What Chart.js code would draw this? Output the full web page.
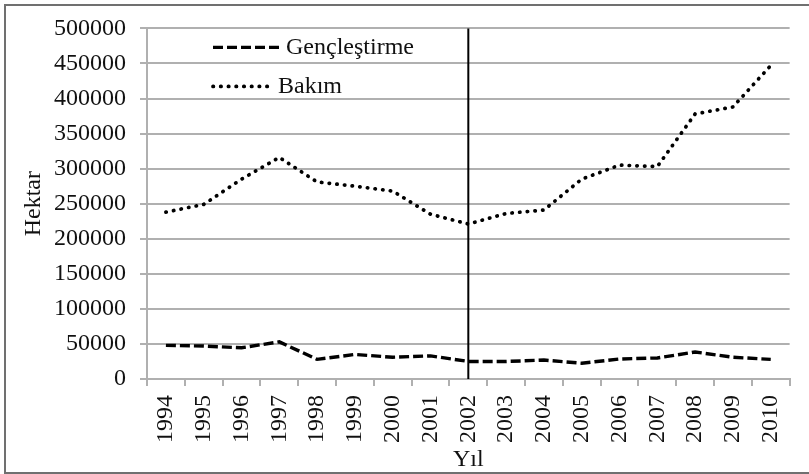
<!DOCTYPE html>
<html>
<head>
<meta charset="utf-8">
<title>Gençleştirme ve Bakım</title>
<script src="https://cdn.jsdelivr.net/npm/chart.js@4.4.1/dist/chart.umd.min.js"></script>
<style>
  html, body { margin: 0; padding: 0; background: #fff; }
  #wrap { width: 809px; height: 474px; position: relative; }
</style>
</head>
<body>
<div id="wrap"><canvas id="chart"></canvas></div>
<script>
// --- data ---
const years = ['1994', '1995', '1996', '1997', '1998', '1999', '2000', '2001', '2002',
               '2003', '2004', '2005', '2006', '2007', '2008', '2009', '2010'];
const genclestirme = [48000, 47000, 44500, 53000, 28000, 35000, 31000, 33000, 25000,
                      25000, 27000, 22500, 28500, 30000, 38500, 31000, 28000];
const bakim = [238000, 249000, 285000, 316000, 281000, 275000, 268000, 235000, 221000,
               236000, 241000, 285000, 305000, 303000, 378000, 388000, 447000];
const yTicks = [0, 50000, 100000, 150000, 200000, 250000, 300000, 350000, 400000, 450000, 500000];
const markerYear = '2002';

const FONT = "'Liberation Serif', 'Times New Roman', serif";
const GRID = '#b0b0b0';

// vertical line at the marker year
const markerLine = {
    id: 'markerLine',
    afterDatasetsDraw(chart) {
        const { ctx, chartArea } = chart;
        const x = chart.scales.x.getPixelForValue(years.indexOf(markerYear));
        ctx.save();
        ctx.strokeStyle = '#000';
        ctx.lineWidth = 2;
        ctx.beginPath();
        ctx.moveTo(x, chartArea.top);
        ctx.lineTo(x, chartArea.bottom);
        ctx.stroke();
        ctx.restore();
    }
};

// legend drawn inside the plot, top left
const innerLegend = {
    id: 'innerLegend',
    afterDraw(chart) {
        const { ctx, chartArea } = chart;
        const left = chartArea.left + 66;
        const rows = [chartArea.top + 19, chartArea.top + 58];
        const lens = [68, 60];
        ctx.save();
        chart.data.datasets.forEach((ds, i) => {
            const y = rows[i];
            ctx.strokeStyle = ds.borderColor;
            ctx.lineWidth = ds.borderWidth;
            ctx.lineCap = ds.borderCapStyle || 'butt';
            ctx.setLineDash(ds.borderDash || []);
            ctx.beginPath();
            ctx.moveTo(left, y);
            ctx.lineTo(left + lens[i], y);
            ctx.stroke();
            ctx.setLineDash([]);
            ctx.fillStyle = '#111';
            ctx.font = '24px ' + FONT;
            ctx.textBaseline = 'middle';
            ctx.textAlign = 'left';
            ctx.fillText(ds.label, left + lens[i] + 5, y);
        });
        ctx.restore();
    }
};

// grey frame round the whole figure
const frame = {
    id: 'frame',
    afterDraw(chart) {
        const ctx = chart.ctx;
        ctx.save();
        ctx.strokeStyle = '#707070';
        ctx.lineWidth = 2;
        ctx.beginPath();
        ctx.moveTo(chart.width + 2, 5);
        ctx.lineTo(5, 5);
        ctx.lineTo(5, 473);
        ctx.lineTo(chart.width + 2, 473);
        ctx.stroke();
        ctx.restore();
    }
};

new Chart(document.getElementById('chart'), {
    type: 'line',
    data: {
        labels: years,
        datasets: [{
            label: 'Gençleştirme',
            data: genclestirme,
            borderColor: '#000',
            borderWidth: 3.4,
            borderDash: [10, 4],
            borderCapStyle: 'butt',
            pointRadius: 0,
            tension: 0,
            fill: false
        }, {
            label: 'Bakım',
            data: bakim,
            borderColor: '#000',
            borderWidth: 3.7,
            borderDash: [0.4, 7.3],
            borderCapStyle: 'round',
            pointRadius: 0,
            tension: 0,
            fill: false
        }]
    },
    options: {
        responsive: true,
        maintainAspectRatio: false,
        animation: false,
        layout: { padding: { top: 24, right: 16, left: 0, bottom: 0 } },
        plugins: {
            legend: { display: false },
            tooltip: { enabled: false }
        },
        scales: {
            x: {
                offset: true,
                grid: {
                    offset: true,
                    drawOnChartArea: false,
                    drawTicks: true,
                    tickLength: 7,
                    color: GRID,
                    lineWidth: 2
                },
                border: { display: true, color: GRID, width: 2 },
                ticks: {
                    maxRotation: 90,
                    minRotation: 90,
                    autoSkip: false,
                    padding: 9,
                    color: '#111',
                    font: { family: FONT, size: 24 }
                },
                title: {
                    display: true,
                    text: 'Yıl',
                    color: '#111',
                    padding: { top: 0, bottom: 0 },
                    font: { family: FONT, size: 24 }
                },
                afterFit(scale) { scale.height = 95; }
            },
            y: {
                min: 0,
                max: 500000,
                afterBuildTicks(axis) { axis.ticks = yTicks.map(v => ({ value: v })); },
                grid: {
                    color: GRID,
                    lineWidth: 2,
                    tickLength: 7
                },
                border: { display: true, color: GRID, width: 2 },
                ticks: {
                    padding: 14,
                    color: '#111',
                    font: { family: FONT, size: 24 },
                    callback: v => String(v)
                },
                title: {
                    display: true,
                    text: 'Hektar',
                    color: '#111',
                    padding: { top: 19, bottom: 0 },
                    font: { family: FONT, size: 24 }
                },
                afterFit(scale) { scale.width = 147; }
            }
        }
    },
    plugins: [markerLine, innerLegend, frame]
});
</script>
</body>
</html>
